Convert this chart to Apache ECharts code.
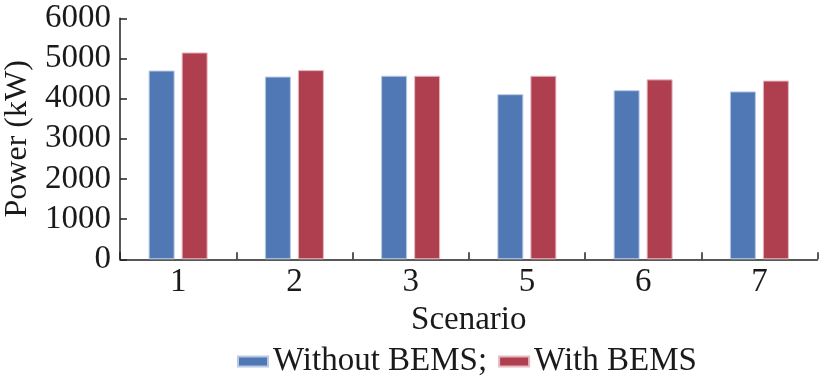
<!DOCTYPE html>
<html>
<head>
<meta charset="utf-8">
<script src="https://cdn.jsdelivr.net/npm/echarts@6/dist/echarts.min.js"></script>
<style>
html,body{margin:0;padding:0;background:#fff;}
#chart{width:820px;height:379px;}
</style>
</head>
<body>
<div id="chart"></div>
<script>
var categories = ['1', '2', '3', '5', '6', '7'];
var withoutBEMS = [4700, 4550, 4570, 4110, 4210, 4180];
var withBEMS = [5150, 4710, 4570, 4570, 4480, 4450];
var yTicks = [0, 1000, 2000, 3000, 4000, 5000, 6000];

var FONT = "'Liberation Serif', 'Times New Roman', serif";
var FS = 33;
var chart = echarts.init(document.getElementById('chart'), null, {renderer: 'canvas'});
chart.setOption({
  animation: false,
  backgroundColor: '#ffffff',
  textStyle: {fontFamily: FONT, color: '#1a1a1a'},
  grid: {left: 120, right: 2.5, top: 18.3, bottom: 119.7, containLabel: false, outerBoundsMode: 'none'},
  legend: {
    top: 345,
    left: 237,
    padding: 0,
    itemWidth: 30,
    itemHeight: 10,
    itemGap: 11,
    textStyle: {fontFamily: FONT, fontSize: FS, color: '#1a1a1a'},
    data: [
      {name: 'Without BEMS;', icon: 'rect'},
      {name: 'With BEMS', icon: 'rect'}
    ]
  },
  xAxis: {
    type: 'category',
    data: categories,
    name: 'Scenario',
    nameLocation: 'middle',
    nameGap: 43,
    nameTextStyle: {fontFamily: FONT, fontSize: FS, color: '#1a1a1a'},
    axisLine: {lineStyle: {color: '#222', width: 1.5}},
    axisTick: {show: true, inside: true, length: 7, lineStyle: {color: '#222', width: 1.5}},
    axisLabel: {fontFamily: FONT, fontSize: FS, color: '#1a1a1a', margin: 7}
  },
  yAxis: {
    type: 'value',
    min: yTicks[0],
    max: yTicks[yTicks.length - 1],
    interval: 1000,
    name: 'Power (kW)',
    nameLocation: 'middle',
    nameGap: 86,
    nameTextStyle: {fontFamily: FONT, fontSize: 32, color: '#1a1a1a'},
    axisLine: {show: true, lineStyle: {color: '#222', width: 1.5}},
    axisTick: {show: true, inside: true, length: 7, lineStyle: {color: '#222', width: 1.5}},
    splitLine: {show: false},
    axisLabel: {fontFamily: FONT, fontSize: FS, color: '#1a1a1a', margin: 9,
      formatter: function (v) { return String(v); }}
  },
  series: [
    {
      name: 'Without BEMS;',
      type: 'bar',
      data: withoutBEMS,
      barWidth: 26,
      barGap: '27%',
      itemStyle: {color: '#4F78B5', borderColor: '#b9c9e3', borderWidth: 1}
    },
    {
      name: 'With BEMS',
      type: 'bar',
      data: withBEMS,
      barWidth: 26,
      itemStyle: {color: '#AF3F4F', borderColor: '#e6b8bf', borderWidth: 1}
    }
  ]
});
</script>
</body>
</html>
